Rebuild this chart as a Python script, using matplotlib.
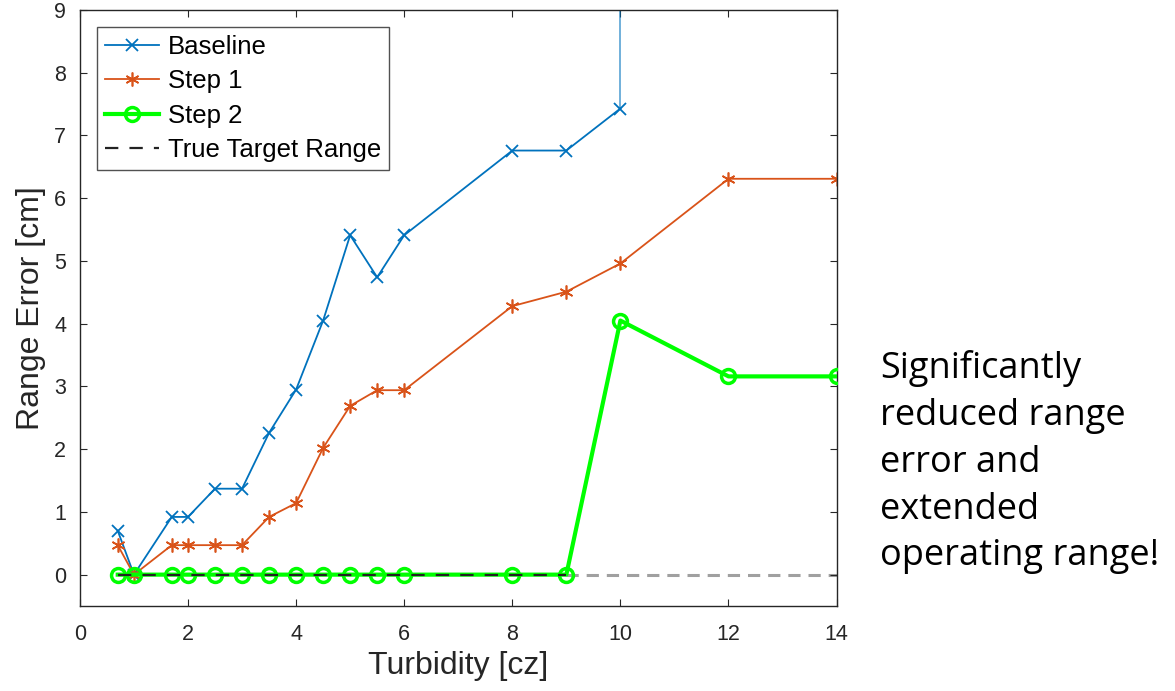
import matplotlib
matplotlib.use("Agg")
import matplotlib.pyplot as plt

# turbidity values [cz]
turb = [0.7, 1, 1.7, 2, 2.5, 3, 3.5, 4, 4.5, 5, 5.5, 6, 8, 9, 10]
turb_ext = turb + [12, 14]

baseline = [0.70, 0.0, 0.92, 0.92, 1.37, 1.37, 2.26, 2.95, 4.05, 5.41, 4.74, 5.41, 6.76, 6.76, 7.43]
step1 = [0.47, 0.0, 0.47, 0.47, 0.47, 0.47, 0.92, 1.14, 2.02, 2.69, 2.94, 2.94, 4.28, 4.51, 4.96, 6.31, 6.31]
step2 = [0.0, 0.0, 0.0, 0.0, 0.0, 0.0, 0.0, 0.0, 0.0, 0.0, 0.0, 0.0, 0.0, 0.0, 4.05, 3.16, 3.16]
true_range = [0.0] * len(turb)

blue = "#0072BD"
orange = "#D95319"
green = "#00FF00"
asterisk = (6, 2, 0)

plt.rcParams["font.family"] = ["Liberation Sans", "DejaVu Sans"]

fig = plt.figure(figsize=(11.75, 6.91), dpi=100)
ax = fig.add_axes([0.068, 0.123, 0.644, 0.8625])

# baseline blows up past 10 cz
ax.plot([turb[-1], turb[-1]], [baseline[-1], 20], color=blue, lw=1.3, alpha=0.6)
ax.plot(turb, baseline, color=blue, lw=1.3, marker="x", ms=9, mew=1.3, label="Baseline")
ax.plot(turb_ext, step1, color=orange, lw=1.3, marker=asterisk, ms=10, mew=1.2, label="Step 1")
ax.plot([9, 14], [0, 0], color="#a0a0a0", lw=2.2, dashes=(4, 2.6), zorder=1)
ax.plot(turb_ext, step2, color=green, lw=3, marker="o", ms=10, mew=2.5,
        mfc="none", label="Step 2", zorder=3)
ax.plot(turb[:-1], true_range[:-1], color="#222222", lw=1.6, dashes=(6, 5), label="True Target Range",
        zorder=4)

ax.set_xlim(0, 14)
ax.set_ylim(-0.5, 9)
ax.set_xticks(range(0, 15, 2))
ax.set_yticks(range(0, 10))
ax.tick_params(direction="in", top=True, right=True, length=5, labelsize=15.5,
               colors="#262626")
ax.tick_params(axis="x", pad=13)
ax.tick_params(axis="y", pad=10)
for s in ax.spines.values():
    s.set_color("#262626")
    s.set_linewidth(1.0)

ax.set_xlabel("Turbidity [cz]", fontsize=23, color="#262626", labelpad=4)
ax.set_ylabel("Range Error [cm]", fontsize=23, color="#262626", labelpad=6)

leg = ax.legend(loc="upper left", fontsize=18.5, frameon=True, fancybox=False,
                edgecolor="#262626", borderaxespad=0.68, handlelength=2.1,
                labelspacing=0.4, borderpad=0.3, handletextpad=0.35)
leg.get_frame().set_linewidth(1.0)

fig.text(0.749, 0.331, "Significantly\nreduced range\nerror and\nextended\noperating range!",
         fontsize=26, ha="left", va="center", linespacing=1.4, family=["Open Sans", "DejaVu Sans"],
         color="black")

fig.savefig("out.png", dpi=100)
